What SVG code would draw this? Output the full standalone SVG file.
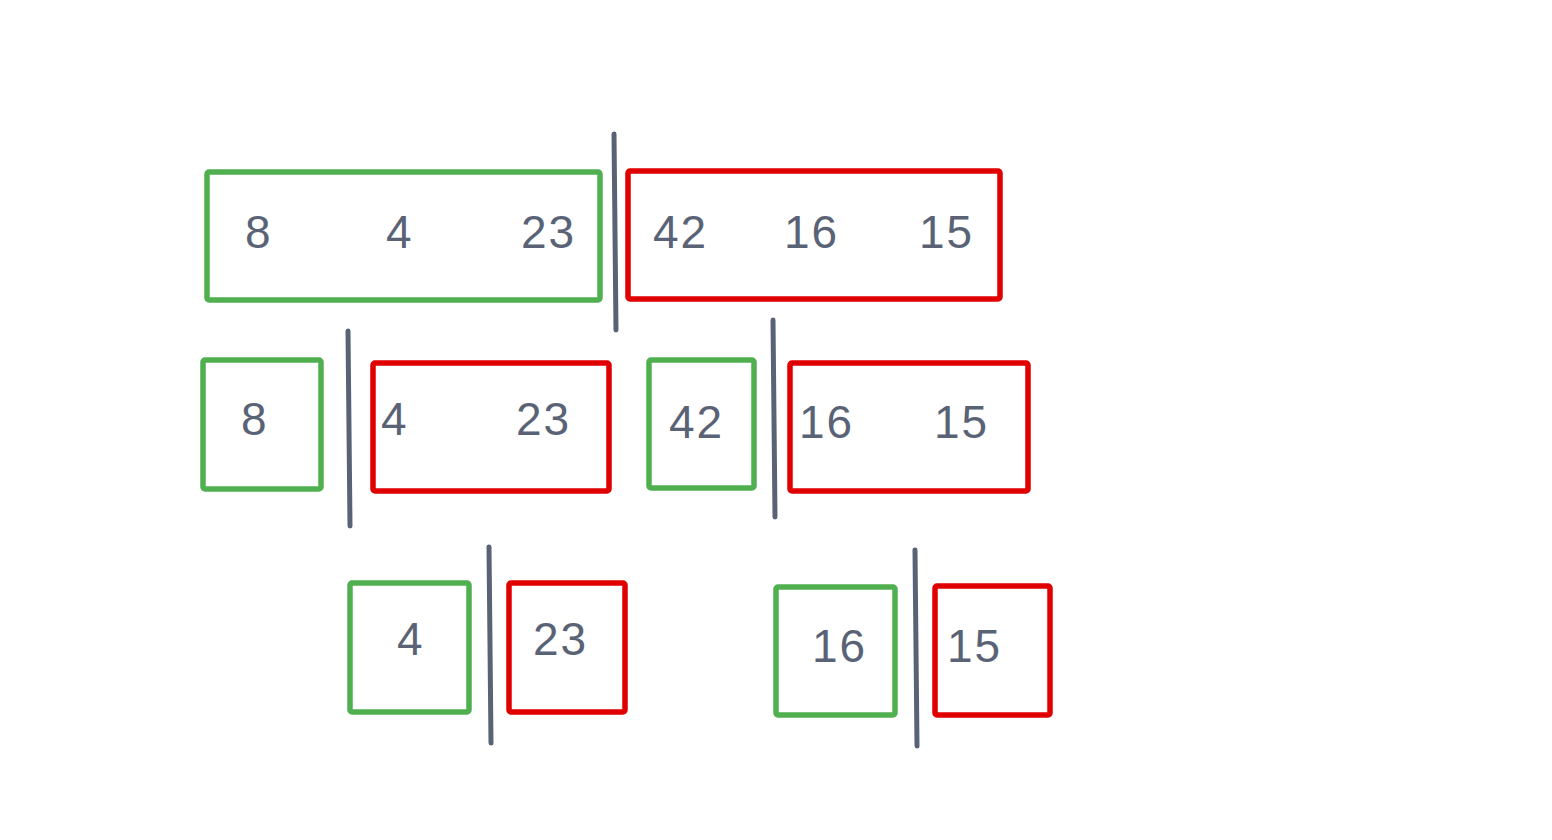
<svg xmlns="http://www.w3.org/2000/svg" width="1552" height="840" viewBox="0 0 1552 840">
<style>
.g{fill:none;stroke:#50b050;stroke-width:5.5;stroke-linejoin:round}
.r{fill:none;stroke:#e00000;stroke-width:5.5;stroke-linejoin:round}
.d{stroke:#5a6376;stroke-width:5;stroke-linecap:round;fill:none}
text{font-family:"Liberation Sans",Arial,sans-serif;font-size:46px;fill:#5a6376;letter-spacing:2px}
</style>
<rect width="1552" height="840" fill="#fff"/>
<g id="n1"><rect class="g" x="207" y="172" width="393" height="128" rx="2"/><text x="245" y="248">8</text><text x="386" y="248">4</text><text x="521" y="248">23</text></g>
<g id="n2"><rect class="r" x="628" y="171" width="372" height="128" rx="2"/><text x="653" y="248">42</text><text x="784" y="248">16</text><text x="919" y="248">15</text></g>
<g id="n3"><rect class="g" x="203" y="360" width="118" height="129" rx="2"/><text x="241" y="435">8</text></g>
<g id="n4"><rect class="r" x="373" y="363" width="236" height="128" rx="2"/><text x="381" y="435">4</text><text x="516" y="435">23</text></g>
<g id="n5"><rect class="g" x="649" y="360" width="105" height="128" rx="2"/><text x="669" y="438">42</text></g>
<g id="n6"><rect class="r" x="790" y="363" width="238" height="128" rx="2"/><text x="799" y="438">16</text><text x="934" y="438">15</text></g>
<g id="n7"><rect class="g" x="350" y="583" width="119" height="129" rx="2"/><text x="397" y="655">4</text></g>
<g id="n8"><rect class="r" x="509" y="583" width="116" height="129" rx="2"/><text x="533" y="655">23</text></g>
<g id="n9"><rect class="g" x="776" y="587" width="119" height="128" rx="2"/><text x="812" y="662">16</text></g>
<g id="n10"><rect class="r" x="935" y="586" width="115" height="129" rx="2"/><text x="947" y="662">15</text></g>
<g id="connectors">
<line class="d" x1="614" y1="134" x2="616" y2="330"/>
<line class="d" x1="348" y1="331" x2="350" y2="526"/>
<line class="d" x1="773" y1="320" x2="775" y2="517"/>
<line class="d" x1="489" y1="547" x2="491" y2="743"/>
<line class="d" x1="915" y1="550" x2="917" y2="746"/>
</g>
</svg>
